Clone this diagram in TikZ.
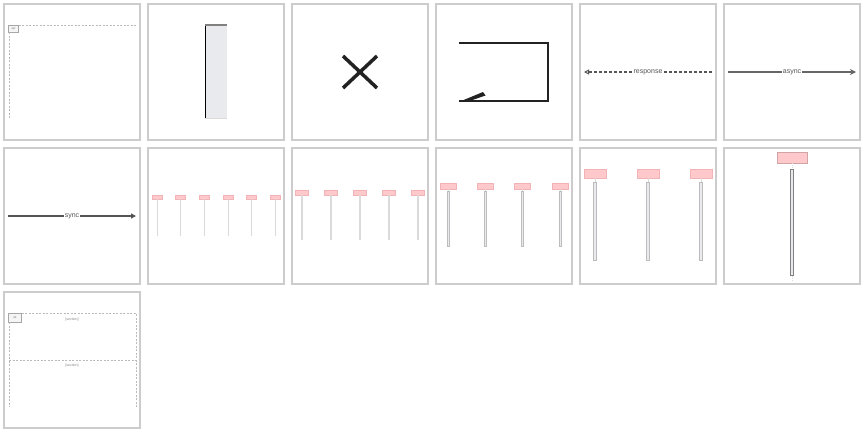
\documentclass[tikz,border=0pt]{standalone}
\usepackage{fontspec}
\setmainfont{Liberation Sans}
\usetikzlibrary{arrows.meta, positioning}
\definecolor{tileline}{HTML}{CCCCCC}
\definecolor{fragline}{HTML}{BBBBBB}
\definecolor{actfill}{HTML}{E8EAED}
\definecolor{headpink}{HTML}{FFC9CC}
\definecolor{headedge}{HTML}{F2B3B6}
\definecolor{lifegray}{HTML}{DADADA}
\definecolor{bargray}{HTML}{BDBDBD}
\definecolor{inkdark}{HTML}{222222}
\definecolor{textgray}{HTML}{555555}
\tikzstyle{tile} = [draw=tileline, line width=2pt]
\tikzstyle{frag} = [draw=fragline, dash pattern=on 2pt off 1.5pt, line width=1pt]
\tikzstyle{fraglabel} = [draw=gray!70, fill=gray!8, line width=0.8pt, inner sep=0pt, anchor=north west, font=\fontsize{3}{3}\selectfont, text=gray]
\tikzstyle{msglabel} = [fill=white, inner sep=0.4pt, font=\fontsize{7}{7}\selectfont, text=textgray]
\tikzstyle{seclabel} = [inner sep=0pt, font=\fontsize{3.5}{3.5}\selectfont, text=gray]
\tikzstyle{head} = [fill=headpink, draw=headedge, line width=0.4pt, inner sep=0pt]
\tikzstyle{life} = [draw=lifegray, line width=1pt]
\tikzstyle{bar} = [draw=bargray, fill=actfill, line width=0.6pt, inner sep=0pt, anchor=north]

\begin{document}
\begin{tikzpicture}[x=1pt, y=-1pt]
    \useasboundingbox (0,0) rectangle (864,432);
    % tiles
    \foreach \c in {0,...,5}
        \foreach \r in {0,1}
            \draw[tile] (4+144*\c,4+144*\r) rectangle ++(136,136);
    \draw[tile] (4,292) rectangle ++(136,136);

    % fragment, one section
    \node[fraglabel, minimum width=10pt, minimum height=7pt] (optbox) at (8,25) {opt};
    \draw[frag] (optbox.north east) -- (136,25);
    \draw[frag] (9,32) -- (9,119);

    % activation
    \fill[actfill] (205,25) rectangle (227,118);
    \draw[black, line width=1pt] (205,25) -- (205,118);
    \draw[gray, line width=1.5pt] (205,25) -- (227,25);
    \draw[lifegray, line width=1pt] (205,118) -- (227,118);

    % destroy
    \draw[inkdark, line width=3.5pt] (343,56) -- (377,88) (343,88) -- (377,56);

    % self message
    \coordinate (selfout) at (459,43);
    \coordinate (selfin) at (459,101);
    \draw[inkdark, line width=1.8pt] (selfout) -- (548,43) -- (548,101) -- (selfin);
    \fill[inkdark] (selfin) ++(0,0.9) -- (483,92) -- (485.5,95.5) -- (467,101.9) -- cycle;

    % response
    \coordinate (respfrom) at (712,72);
    \coordinate (respto) at (584,72);
    \draw[textgray, line width=1.3pt, dash pattern=on 3pt off 2pt, -{Triangle[open, length=5pt, width=5pt, line width=1pt]}]
        (respfrom) -- (respto) node[midway, msglabel] {response};

    % async
    \coordinate (asyncfrom) at (728,72);
    \coordinate (asyncto) at (856,72);
    \draw[gray!80!black, line width=1.5pt, -{Stealth[open, length=6pt, width=6pt, line width=1pt]}]
        (asyncfrom) -- (asyncto) node[midway, msglabel] {async};

    % sync
    \coordinate (syncfrom) at (8,216);
    \coordinate (syncto) at (136,216);
    \draw[textgray, line width=1.5pt, -{Triangle[length=5pt, width=5pt, fill=inkdark]}]
        (syncfrom) -- (syncto) node[midway, msglabel] {sync};

    % six lifelines
    \foreach \x [count=\i] in {157,180,204,228,251,275} {
        \node[head, minimum width=10pt, minimum height=4pt] (hsix\i) at (\x,197) {};
        \coordinate (esix\i) at (\x,236);
        \draw[life] (hsix\i.south) -- (esix\i);
    }

    % five lifelines
    \foreach \x [count=\i] in {302,331,360,389,418} {
        \node[head, minimum width=13pt, minimum height=5pt] (hfive\i) at (\x,192.5) {};
        \coordinate (efive\i) at (\x,240);
        \draw[life, line width=1.2pt] (hfive\i.south) -- (efive\i);
    }

    % four lifelines
    \foreach \x [count=\i] in {448,485,522,560} {
        \node[head, minimum width=16pt, minimum height=6pt] (hfour\i) at (\x,186) {};
        \node[bar, minimum width=2pt, minimum height=55pt] (bfour\i) at (\x,191) {};
        \draw[lifegray, line width=0.5pt] (hfour\i.south) -- (bfour\i.north);
    }

    % three lifelines
    \foreach \x [count=\i] in {595,648,701} {
        \node[head, minimum width=22pt, minimum height=9pt] (hthree\i) at (\x,173.5) {};
        \node[bar, minimum width=3.5pt, minimum height=78pt] (bthree\i) at (\x,182) {};
        \draw[lifegray, line width=0.5pt] (hthree\i.south) -- (bthree\i.north);
    }

    % one lifeline
    \node[head, draw=headedge!70!gray, line width=0.6pt, minimum width=30pt, minimum height=11pt] (hone) at (792,157.5) {};
    \node[bar, draw=gray, minimum width=3.5pt, minimum height=106pt] (bone) at (792,169) {};
    \coordinate (eone) at (792,280);
    \draw[lifegray, line width=0.6pt, dash pattern=on 1pt off 1pt] (hone.south) -- (bone.north);
    \draw[lifegray, line width=0.6pt, dash pattern=on 1pt off 1pt] (bone.south) -- (eone);

    % fragment, two sections
    \node[fraglabel, minimum width=13pt, minimum height=9pt] (altbox) at (8,313) {alt};
    \draw[frag] (altbox.north east) -- (136,313) -- (136,407);
    \draw[frag] (9,322) -- (9,407);
    \draw[frag] (9,360) -- (136,360);
    \node[seclabel] (secone) at (72,320) {[section]};
    \node[seclabel] (sectwo) at (72,366) {[section]};
\end{tikzpicture}
\end{document}
